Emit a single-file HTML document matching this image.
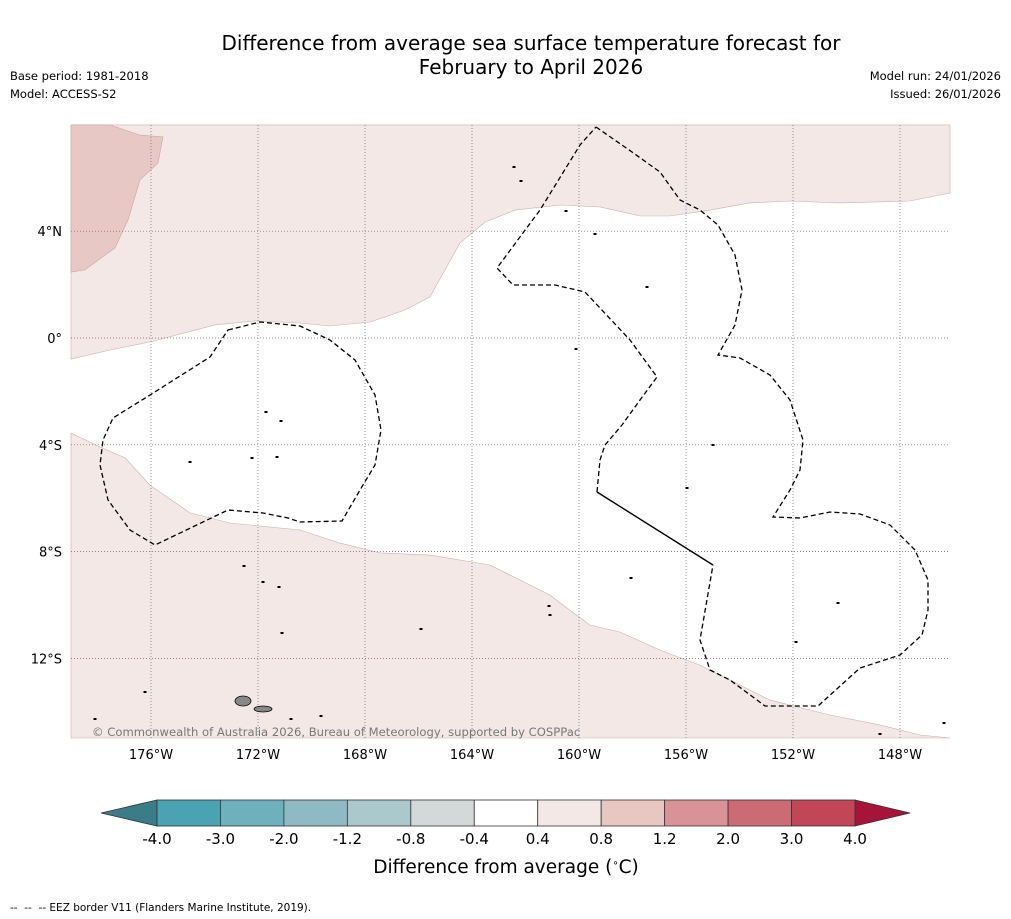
<!DOCTYPE html>
<html><head><meta charset="utf-8"><style>
body{margin:0;background:#fff;}
svg{display:block;font-family:"DejaVu Sans","Liberation Sans",sans-serif;}
</style></head><body>
<svg id="chart" width="1011" height="919" viewBox="0 0 1011 919">
<rect width="1011" height="919" fill="#fff"/>
<text x="531" y="50" font-size="20" text-anchor="middle">Difference from average sea surface temperature forecast for</text>
<text x="531" y="74" font-size="20" text-anchor="middle">February to April 2026</text>
<text x="10" y="80" font-size="11.5">Base period: 1981-2018</text>
<text x="10" y="98" font-size="11.5">Model: ACCESS-S2</text>
<text x="1001" y="80" font-size="11.5" text-anchor="end">Model run: 24/01/2026</text>
<text x="1001" y="98" font-size="11.5" text-anchor="end">Issued: 26/01/2026</text>
<g id="map"></g>
<g id="cbar"></g>
<text x="506" y="873" font-size="18.5" text-anchor="middle">Difference from average (<tspan font-size="10" dy="-7">∘</tspan><tspan dy="7">C)</tspan></text>
<text x="10" y="911" font-size="10.5">-- &#160;-- &#160;-- EEZ border V11 (Flanders Marine Institute, 2019).</text>
</svg>
<script>
const NS="http://www.w3.org/2000/svg";
const lonTicks=[-176,-172,-168,-164,-160,-156,-152,-148];
const latTicks=[4,0,-4,-8,-12];
const northAnom=[[-178.99,7.98],[-146.13,7.98],[-146.13,5.43],[-147.63,5.13],[-150.24,5.06],[-152.11,5.13],[-153.61,5.06],[-155.29,4.76],[-156.6,4.57],[-157.72,4.57],[-159.21,4.91],[-160.71,4.98],[-162.39,4.79],[-163.51,4.34],[-164.45,3.56],[-165.57,1.54],[-166.5,1.05],[-167.81,0.6],[-169.31,0.45],[-170.43,0.56],[-172.11,0.64],[-173.61,0.49],[-176.04,-0.15],[-177.53,-0.45],[-178.99,-0.79]];
const northWarm=[[-178.99,7.98],[-177.53,7.98],[-176.41,7.6],[-175.55,7.53],[-175.74,6.55],[-176.41,5.92],[-176.86,4.42],[-177.35,3.37],[-178.47,2.55],[-178.99,2.47]];
const southAnom=[[-178.99,-3.56],[-177.91,-4.08],[-176.97,-4.49],[-176.04,-5.51],[-174.54,-6.55],[-173.05,-6.93],[-170.43,-7.19],[-168.93,-7.68],[-167.44,-8.05],[-165.57,-8.13],[-163.33,-8.5],[-162.21,-9.06],[-161.08,-9.63],[-160.34,-10.19],[-159.59,-10.75],[-158.47,-11.01],[-156.97,-11.69],[-155.48,-12.25],[-154.36,-12.81],[-152.86,-13.56],[-150.62,-14.12],[-148.75,-14.49],[-147.25,-14.87],[-146.13,-14.98],[-178.99,-14.98]];
const cbBounds=[-4.0,-3.0,-2.0,-1.2,-0.8,-0.4,0.4,0.8,1.2,2.0,3.0,4.0];
const cbColors=["#4aa3b3","#6fb0bd","#8fbac5","#abc8cd","#d3d8d8","#ffffff","#f4e8e6","#e8c6c2","#d99297","#cc6b73","#c14756"];
const cbLabels=["-4.0","-3.0","-2.0","-1.2","-0.8","-0.4","0.4","0.8","1.2","2.0","3.0","4.0"];

const X=lon=>151+(lon+176)*26.75;
const Y=lat=>338-lat*26.7;
const map=document.getElementById('map');
function el(t,a,p){const e=document.createElementNS(NS,t);for(const k in a)e.setAttribute(k,a[k]);(p||map).appendChild(e);return e;}
function poly(arr,fill,stroke){const e=el('polygon',{points:arr.map(p=>X(p[0]).toFixed(1)+','+Y(p[1]).toFixed(1)).join(' '),fill:fill,stroke:stroke,'stroke-width':0.6});return e;}
let p=poly(northAnom,"#f4e8e7","#c9b1ae");


p=poly(northWarm,"#e8c8c4","#c9a8a4");


p=poly(southAnom,"#f4e8e7","#c9b1ae");


lonTicks.forEach(l=>{
 const g=el('line',{x1:X(l),x2:X(l),y1:125,y2:738,stroke:'#5a6a8a','stroke-width':0.7,'stroke-dasharray':'1,2'});
 
 
 const t=el('text',{x:X(l),y:759,'font-size':13,'text-anchor':'middle'});
 t.textContent=Math.abs(l)+'°W';
 
 
});
latTicks.forEach(l=>{
 const g=el('line',{x1:71,x2:950,y1:Y(l),y2:Y(l),stroke:'#8a5a5a','stroke-width':0.7,'stroke-dasharray':'1,2'});
 
 
 const t=el('text',{x:62,y:Y(l)+5,'font-size':13,'text-anchor':'end'});
 t.textContent=l===0?'0°':Math.abs(l)+'°'+(l>0?'N':'S');
 
 
});
const eez=[
 "M228,330 L260,322 L300,326 L330,340 L355,360 L375,395 L381,430 L375,465 L360,490 L342,521 L300,522 L288,518 L263,513 L228,510 L155,545 L130,530 L108,500 L100,465 L103,440 L113,418 L150,395 L210,357 Z",
 "M596,127 L632,152 L660,172 L680,200 L700,210 L718,225 L735,255 L742,290 L735,325 L718,355 L740,358 L770,375 L790,400 L803,440 L800,470 L790,490 L773,517 L800,518 L830,512 L860,514 L890,525 L915,550 L928,580 L928,610 L922,635 L900,655 L860,668 L818,706 L765,706 L730,680 L710,670 L700,640 L713,565",
 "M597,492 L600,460 L605,445 L622,425 L640,400 L657,377 L630,340 L585,292 L555,285 L513,285 L497,268 L540,210 L580,145 L596,127"];
eez.forEach(d=>{const e=el('path',{d:d,fill:'none',stroke:'#000','stroke-width':1.3,'stroke-dasharray':'5,3'});
 
 });
let s=el('line',{x1:597,y1:492,x2:713,y2:565,stroke:'#000','stroke-width':1.4});


[[243,701,8,5],[263,709,9,3]].forEach(a=>{const e=el('ellipse',{cx:a[0],cy:a[1],rx:a[2],ry:a[3],fill:'#888',stroke:'#000','stroke-width':0.8});
 
 });
[[514,167],[521,181],[595,234],[647,287],[266,412],[281,421],[190,462],[252,458],[277,457],[713,445],[687,488],[631,578],[838,603],[549,606],[550,615],[421,629],[244,566],[263,582],[279,587],[282,633],[145,692],[95,719],[291,719],[321,716],[576,349],[566,211],[796,642],[880,734],[944,723]].forEach(a=>{
 const e=el('rect',{x:a[0]-1.5,y:a[1]-1,width:3,height:2,fill:'#000'});
 
 });
let c=el('text',{x:92,y:736,'font-size':11.6,fill:'#777'});
c.textContent='© Commonwealth of Australia 2026, Bureau of Meteorology, supported by COSPPac';


const cb=document.getElementById('cbar');
const cbX0=157,cbX1=855,cbY=800,cbH=26;
const n=cbColors.length,w=(cbX1-cbX0)/n;
const cx=i=>cbX0+i*w;
let t=el('polygon',{points:`101,${cbY+cbH/2} ${cbX0},${cbY} ${cbX0},${cbY+cbH}`,fill:'#3a7d88',stroke:'#333','stroke-width':0.8},cb);


t=el('polygon',{points:`910,${cbY+cbH/2} ${cbX1},${cbY} ${cbX1},${cbY+cbH}`,fill:'#a8133a',stroke:'#333','stroke-width':0.8},cb);


cbColors.forEach((col,i)=>{const r=el('rect',{x:cx(i),y:cbY,width:w,height:cbH,fill:col,stroke:'#333','stroke-width':0.8},cb);
 
 });
cbLabels.forEach((lb,i)=>{const e=el('text',{x:cx(i),y:844,'font-size':15,'text-anchor':'middle'},cb);
 e.textContent=lb;
 
 });
</script>
</body></html>
